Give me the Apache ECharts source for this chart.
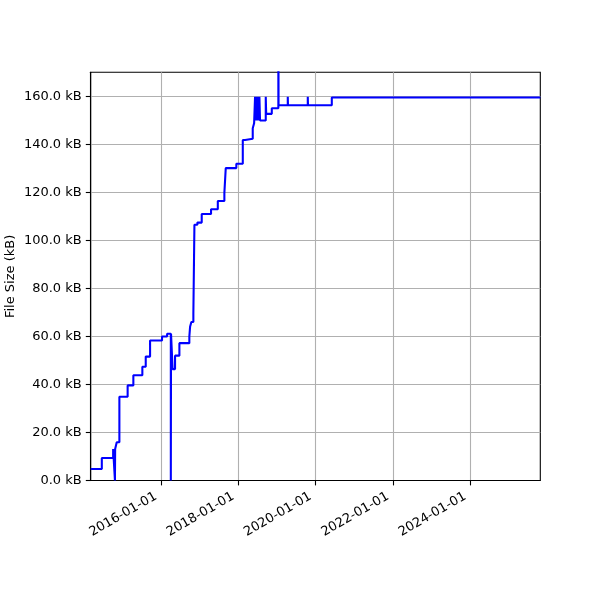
<!DOCTYPE html>
<html><head><meta charset="utf-8">
<script src="https://cdn.jsdelivr.net/npm/echarts@6/dist/echarts.min.js"></script>
<style>html,body{margin:0;padding:0;background:#fff}#c{width:600px;height:600px}</style>
</head><body><div id="c"></div>
<script>
// change dates (step-post) and file sizes in kB
const dates = [
  '2014-03-07','2014-06-20','2014-10-05','2014-10-22','2014-10-24','2014-11-08','2014-12-03',
  '2015-02-19','2015-04-14','2015-07-08','2015-08-09','2015-09-19',
  '2016-01-10','2016-02-27','2016-04-02','2016-04-04','2016-04-19','2016-05-12','2016-06-22',
  '2016-09-24','2016-10-01','2016-10-13','2016-11-01','2016-11-11','2016-12-09',
  '2017-01-19','2017-04-17','2017-06-20','2017-08-21','2017-09-03','2017-12-12',
  '2018-02-11','2018-03-05','2018-05-16','2018-05-29',
  '2018-06-07','2018-06-16','2018-06-23','2018-06-29','2018-07-05','2018-07-12','2018-07-18','2018-07-24',
  '2018-09-16','2018-09-20','2018-11-12',
  '2019-01-13','2019-01-15','2019-04-12','2019-04-14','2019-10-18','2019-10-20',
  '2020-06-01','2025-10-23'
];
const sizesKB = [
  4.8, 9.4, 13.1, 0, 13.1, 15.9, 34.9,
  39.6, 43.8, 47.4, 51.6, 58.3,
  60.0, 61.1, 0, 61.1, 46.4, 52.0, 57.2,
  59.9, 64.0, 66.0, 69.6, 106.5, 107.4,
  111.0, 113.0, 116.4, 119.8, 130.1, 131.9,
  141.8, 142.3, 146.7, 148.8,
  159.8, 149.9, 159.8, 149.9, 159.8, 149.9, 159.8, 149.9,
  159.8, 152.7, 155.0,
  200.0, 156.3, 159.8, 156.3, 159.8, 156.3,
  159.5, 159.5
];
const xTickLabels = ['2016-01-01','2018-01-01','2020-01-01','2022-01-01','2024-01-01'];
const yTicks = [0, 20, 40, 60, 80, 100, 120, 140, 160];
const xRange = ['2014-03-07', '2025-10-23'];
const yRange = [0, 170];

function ts(s){ const p = s.split('-').map(Number); return Date.UTC(p[0], p[1]-1, p[2]); }
function fmt(v){ const d = new Date(v); const p = n => String(n).padStart(2,'0');
  return d.getUTCFullYear() + '-' + p(d.getUTCMonth()+1) + '-' + p(d.getUTCDate()); }

const data = dates.map((d, i) => [ts(d), sizesKB[i]]);
const xTickVals = xTickLabels.map(ts);
const font = 'DejaVu Sans';

const chart = echarts.init(document.getElementById('c'), null, {renderer: 'canvas'});
chart.setOption({
  animation: false,
  backgroundColor: '#fff',
  grid: {left: 90.7, right: 59.7, top: 72.3, bottom: 119.5, containLabel: false, outerBoundsMode: 'none',
    show: true, borderColor: '#000', borderWidth: 1.1, backgroundColor: 'transparent'},
  xAxis: {
    type: 'value', min: ts(xRange[0]), max: ts(xRange[1]), scale: true,
    axisLine: {show: true, onZero: false, lineStyle: {color: '#000', width: 1.1}},
    axisTick: {show: true, length: 4.9, lineStyle: {color: '#000', width: 1.1}, customValues: xTickVals},
    axisLabel: {customValues: xTickVals, formatter: v => fmt(v), rotate: 30, margin: 12, padding: [0, 6, 0, 0],
      color: '#000', fontFamily: font, fontSize: 13, hideOverlap: false},
    splitLine: {show: true, lineStyle: {color: '#b0b0b0', width: 1.1}}
  },
  yAxis: {
    type: 'value', min: yRange[0], max: yRange[1],
    name: 'File Size (kB)', nameLocation: 'middle', nameGap: 74, nameMoveOverlap: false,
    nameTextStyle: {color: '#000', fontFamily: font, fontSize: 13},
    axisLine: {show: true, lineStyle: {color: '#000', width: 1.1}},
    axisTick: {show: true, length: 4.9, lineStyle: {color: '#000', width: 1.1}, customValues: yTicks},
    axisLabel: {customValues: yTicks, formatter: v => v.toFixed(1) + ' kB', margin: 9,
      color: '#000', fontFamily: font, fontSize: 13},
    splitLine: {show: true, lineStyle: {color: '#b0b0b0', width: 1.1}}
  },
  series: [{
    type: 'line', step: 'end', data: data, symbol: 'none', showSymbol: false,
    clip: true, lineStyle: {color: '#0000ff', width: 2.08}, z: 3
  }]
});
</script></body></html>
